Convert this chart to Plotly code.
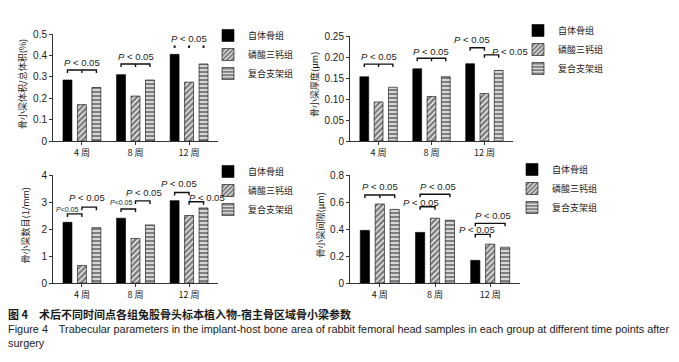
import plotly.graph_objects as go

# ---------------- data ----------------
categories = ["4 周", "8 周", "12 周"]
series_names = ["自体骨组", "磷酸三钙组", "复合支架组"]

bv_tv = {  # 骨小梁体积/总体积(%)
    "自体骨组": [0.285, 0.31, 0.405],
    "磷酸三钙组": [0.17, 0.21, 0.275],
    "复合支架组": [0.25, 0.285, 0.36],
}
tb_th = {  # 骨小梁厚度(μm)
    "自体骨组": [0.153, 0.172, 0.184],
    "磷酸三钙组": [0.093, 0.106, 0.113],
    "复合支架组": [0.128, 0.153, 0.168],
}
tb_n = {  # 骨小梁数目(1/mm)
    "自体骨组": [2.25, 2.4, 3.05],
    "磷酸三钙组": [0.65, 1.65, 2.5],
    "复合支架组": [2.05, 2.15, 2.78],
}
tb_sp = {  # 骨小梁间隙(μm)
    "自体骨组": [0.39, 0.375, 0.168],
    "磷酸三钙组": [0.585, 0.48, 0.288],
    "复合支架组": [0.545, 0.465, 0.265],
}

y_titles = ["骨小梁体积/总体积(%)", "骨小梁厚度(μm)", "骨小梁数目(1/mm)", "骨小梁间隙(μm)"]
y_ticks = [
    ([0, 0.1, 0.2, 0.3, 0.4, 0.5], ["0", "0.1", "0.2", "0.3", "0.4", "0.5"]),
    ([0, 0.05, 0.10, 0.15, 0.20, 0.25], ["0", "0.05", "0.10", "0.15", "0.20", "0.25"]),
    ([0, 1, 2, 3, 4], ["0", "1", "2", "3", "4"]),
    ([0, 0.2, 0.4, 0.6, 0.8], ["0", "0.2", "0.4", "0.6", "0.8"]),
]
y_ranges = [[0, 0.5], [0, 0.25], [0, 4], [0, 0.8]]

# significance brackets: (group, first bar, last bar, y level, mid tick, label, label y, label x offset, small text)
brackets = [
    [(0, 0, 2, 0.332, True, "<i>P</i> < 0.05", 0.365, 0.0, False),
     (1, 0, 2, 0.36, True, "<i>P</i> < 0.05", 0.393, 0.0, False),
     (2, 0, 2, 0.442, "dots", "<i>P</i> < 0.05", 0.478, 0.0, False)],
    [(0, 0, 2, 0.183, True, "<i>P</i> < 0.05", 0.2, 0.0, False),
     (1, 0, 2, 0.197, True, "<i>P</i> < 0.05", 0.214, 0.0, False),
     (2, 0, 1, 0.222, False, "<i>P</i> < 0.05", 0.241, -0.1, False),
     (2, 1, 2, 0.205, False, "<i>P</i> < 0.05", 0.214, 0.35, False)],
    [(0, 0, 1, 2.56, False, "<i>P</i><0.05", 2.74, -0.135, True),
     (0, 1, 2, 2.81, False, "<i>P</i> < 0.05", 3.15, -0.045, False),
     (1, 0, 1, 2.74, False, "<i>P</i><0.05", 2.98, -0.145, True),
     (1, 1, 2, 3.04, False, "<i>P</i> < 0.05", 3.37, 0.015, False),
     (2, 0, 1, 3.35, False, "<i>P</i> < 0.05", 3.7, -0.05, False),
     (2, 1, 2, 3.01, False, "<i>P</i> < 0.05", 3.16, 0.2, False)],
    [(0, 0, 2, 0.652, True, "<i>P</i> < 0.05", 0.713, 0.0, False),
     (1, 0, 1, 0.565, False, "<i>P</i> < 0.05", 0.598, -0.12, False),
     (1, 0, 2, 0.657, False, "<i>P</i> < 0.05", 0.713, 0.05, False),
     (2, 0, 1, 0.36, False, "<i>P</i> < 0.05", 0.397, -0.1, False),
     (2, 0, 2, 0.442, False, "<i>P</i> < 0.05", 0.498, 0.05, False)],
]

caption_cn = "图 4　术后不同时间点各组兔股骨头标本植入物-宿主骨区域骨小梁参数"
caption_en1 = "Figure 4　Trabecular parameters in the implant-host bone area of rabbit femoral head samples in each group at different time points after"
caption_en2 = "surgery"

# ---------------- styling ----------------
W, H = 679, 362
FONT = "Liberation Sans, Arial, Noto Sans CJK SC"
CJK = "Noto Sans CJK SC, Liberation Sans"
INK = "#1a1a1a"

patterns = [
    dict(shape=""),
    dict(shape="/", fgcolor="#000", bgcolor="white", size=4, solidity=0.7),
    dict(shape="-", fgcolor="#000", bgcolor="white", size=4, solidity=0.66),
]
colors = ["#000", "white", "white"]

def px_x(p):
    return p / W

def px_y(p):
    return 1 - p / H

domains = [
    ([px_x(53), px_x(218)], [px_y(141), px_y(34)]),
    ([px_x(350), px_x(513)], [px_y(141), px_y(36)]),
    ([px_x(53), px_x(218)], [px_y(283), px_y(175)]),
    ([px_x(350), px_x(520)], [px_y(283), px_y(175)]),
]
title_x = [23, 315, 25, 320]
legend_pos = [(208, 21), (518, 16), (208, 157), (512, 155)]

datasets = [bv_tv, tb_th, tb_n, tb_sp]
slot = 0.27
xpos = list(range(len(categories)))

fig = go.Figure()
layout = dict(
    width=W, height=H, margin=dict(l=0, r=0, t=0, b=0, autoexpand=False),
    plot_bgcolor="white", paper_bgcolor="white",
    barmode="group", bargap=0.19, bargroupgap=0.38,
    font=dict(family=FONT, size=10, color=INK),
)
shapes = []
annotations = []

for k, data in enumerate(datasets):
    ax = "" if k == 0 else str(k + 1)
    leg = "legend" if k == 0 else f"legend{k + 1}"
    for i, name in enumerate(series_names):
        fig.add_trace(go.Bar(
            x=xpos, y=data[name], name=name,
            xaxis="x" + ax, yaxis="y" + ax, legend=leg,
            marker=dict(color=colors[i], pattern=patterns[i],
                        line=dict(color="#000", width=0.6)),
            showlegend=True, hoverinfo="y",
        ))
    xd, yd = domains[k]
    layout["xaxis" + ax] = dict(
        domain=xd, anchor="y" + ax, range=[-0.54, 2.54], automargin=False,
        tickvals=xpos, ticktext=categories, ticks="outside", ticklen=3,
        tickcolor="#333", showline=True, linecolor="#333", linewidth=1,
        showgrid=False, zeroline=False,
        tickfont=dict(family=CJK, size=9, color=INK),
    )
    tv, tt = y_ticks[k]
    layout["yaxis" + ax] = dict(
        domain=yd, anchor="x" + ax, range=y_ranges[k], automargin=False,
        tickvals=tv, ticktext=tt, ticks="outside", ticklen=3,
        tickcolor="#333", showline=True, linecolor="#333", linewidth=1,
        showgrid=False, zeroline=False,
        tickfont=dict(family=FONT, size=10, color=INK),
    )
    # y-axis title
    annotations.append(dict(
        x=px_x(title_x[k]), y=(yd[0] + yd[1]) / 2 + 0.01, xref="paper", yref="paper",
        text=y_titles[k], textangle=-90, showarrow=False,
        xanchor="center", yanchor="middle",
        font=dict(family=CJK, size=9, color=INK),
    ))
    lx, ly = legend_pos[k]
    layout[leg] = dict(
        x=px_x(lx), y=px_y(ly), xanchor="left", yanchor="top",
        bgcolor="rgba(0,0,0,0)", itemwidth=30, tracegroupgap=0,
        font=dict(family=CJK, size=9, color=INK),
        itemclick=False, itemdoubleclick=False,
    )
    # significance brackets
    yr = y_ranges[k][1]
    tick = yr * 0.028
    xr = "x" + ax
    yrf = "y" + ax
    for (g, b0, b1, yl, mid, label, ly_, lxo, small) in brackets[k]:
        xa = g + (b0 - 1) * slot
        xb = g + (b1 - 1) * slot
        if mid == "dots":
            for b in range(b0, b1 + 1):
                xb_ = g + (b - 1) * slot
                shapes.append(dict(type="line", xref=xr, yref=yrf, x0=xb_, x1=xb_,
                                   y0=yl - tick * 0.5, y1=yl + tick * 0.3,
                                   line=dict(color="#111", width=2)))
        else:
            path = f"M {xa},{yl - tick} L {xa},{yl} L {xb},{yl} L {xb},{yl - tick}"
            if mid:
                xm = (xa + xb) / 2
                path += f" M {xm},{yl} L {xm},{yl - tick}"
            shapes.append(dict(type="path", xref=xr, yref=yrf, path=path,
                               line=dict(color="#111", width=1.4)))
        annotations.append(dict(
            x=(xa + xb) / 2 + lxo, y=ly_, xref=xr, yref=yrf, text=label,
            showarrow=False, xanchor="center", yanchor="middle",
            font=dict(family=FONT, size=7 if small else 9.5, color=INK),
        ))

annotations += [
    dict(x=px_x(6), y=px_y(314), xref="paper", yref="paper", text="<b>" + caption_cn + "</b>",
         showarrow=False, xanchor="left", yanchor="middle",
         font=dict(family=CJK, size=11, color=INK)),
    dict(x=px_x(6), y=px_y(328.5), xref="paper", yref="paper", text=caption_en1,
         showarrow=False, xanchor="left", yanchor="middle",
         font=dict(family=FONT, size=10.9, color=INK)),
    dict(x=px_x(6), y=px_y(343), xref="paper", yref="paper", text=caption_en2,
         showarrow=False, xanchor="left", yanchor="middle",
         font=dict(family=FONT, size=10.9, color=INK)),
]

layout["shapes"] = shapes
layout["annotations"] = annotations
fig.update_layout(**layout)
fig.write_html("out.html", config={"displayModeBar": False},
               post_script="document.body.style.margin='0';document.body.style.padding='0';")
